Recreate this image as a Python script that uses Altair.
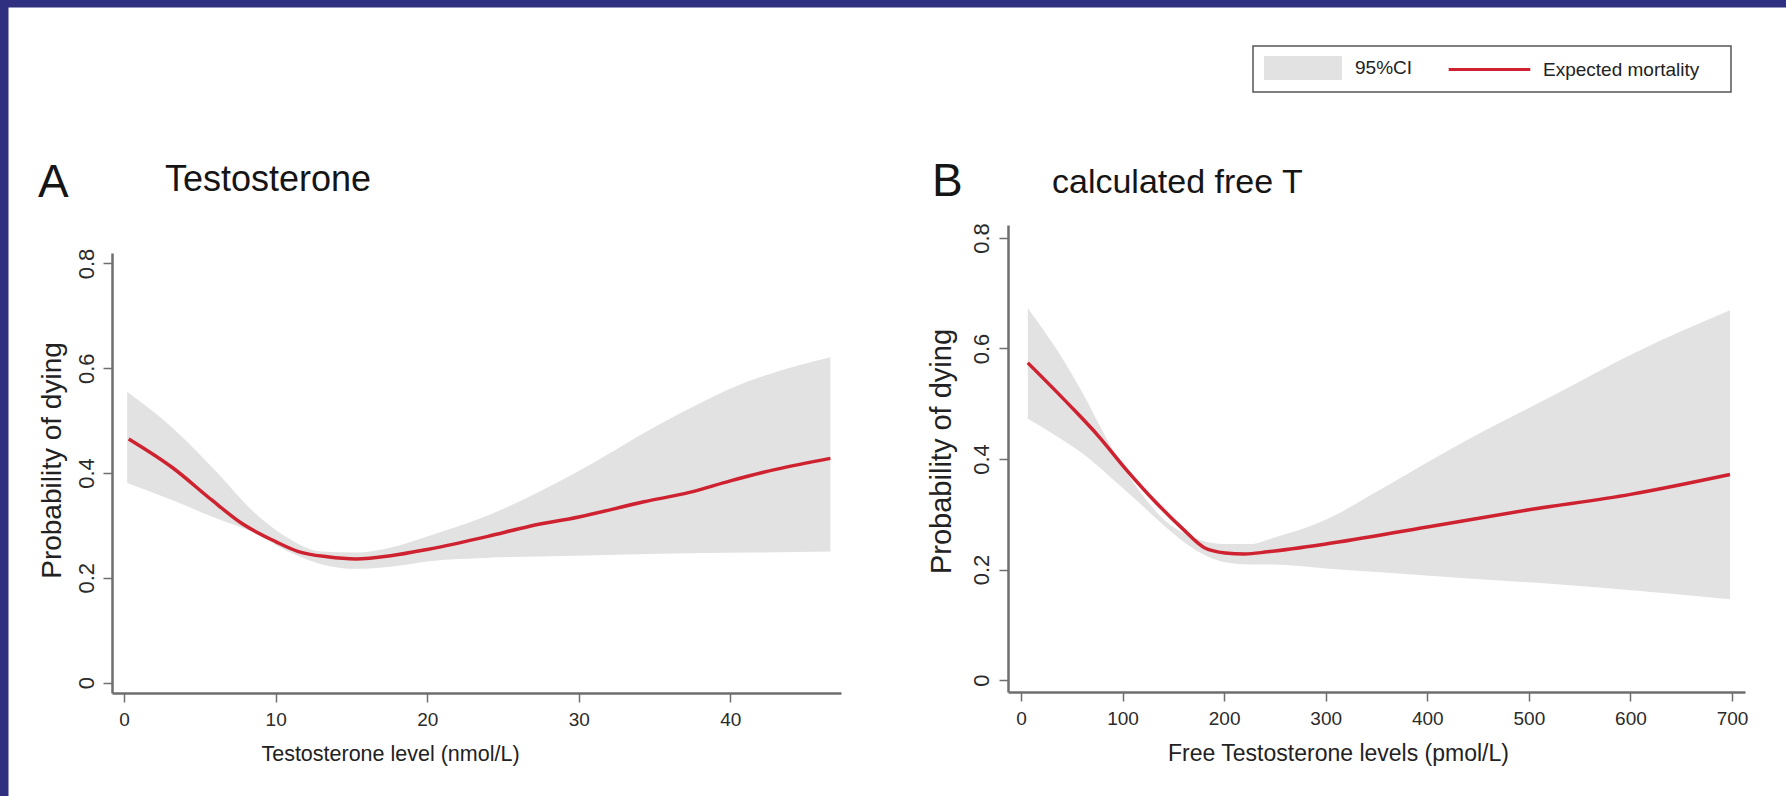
import altair as alt
import pandas as pd

FONT = "Liberation Sans"
RED = "#cf2230"
BAND = "#e2e2e2"
AXIS = "#6e6e6e"
NAVY = "#2f3180"

# ---------------- Panel A: total testosterone (nmol/L) ----------------
a_line_x = [0.3, 3.2, 5.8, 7.7, 10.0, 11.5, 13.4, 15.3, 17.6, 20.0, 24.0, 26.7, 30.0, 34.3, 37.3, 40.0, 43.0, 46.6]
a_line_y = [0.465, 0.410, 0.348, 0.305, 0.269, 0.250, 0.240, 0.236, 0.242, 0.254, 0.279, 0.298, 0.316, 0.345, 0.363, 0.385, 0.407, 0.428]
a_ci_x = [0.2, 3.2, 6.2, 8.5, 10.7, 13.0, 15.3, 17.6, 20.0, 24.0, 29.7, 35.4, 41.1, 46.6]
a_ci_hi = [0.555, 0.486, 0.399, 0.327, 0.278, 0.250, 0.248, 0.258, 0.279, 0.319, 0.399, 0.494, 0.574, 0.621]
a_ci_lo = [0.381, 0.348, 0.312, 0.287, 0.252, 0.226, 0.217, 0.221, 0.231, 0.238, 0.242, 0.246, 0.248, 0.250]
a_xticks = [0, 10, 20, 30, 40]

# ---------------- Panel B: calculated free testosterone (pmol/L) ----------------
b_line_x = [6.7, 48, 76, 104, 131, 159, 181, 201, 220, 243, 300, 400, 500, 600, 698]
b_line_y = [0.574, 0.497, 0.442, 0.380, 0.325, 0.274, 0.239, 0.230, 0.228, 0.232, 0.246, 0.277, 0.308, 0.336, 0.372]
b_ci_x = [6.7, 32, 59, 87, 115, 143, 171, 201, 226, 248, 300, 354, 437, 521, 604, 698]
b_ci_hi = [0.673, 0.607, 0.525, 0.428, 0.346, 0.287, 0.257, 0.246, 0.246, 0.257, 0.290, 0.345, 0.432, 0.512, 0.592, 0.669]
b_ci_lo = [0.473, 0.445, 0.412, 0.369, 0.323, 0.276, 0.236, 0.213, 0.209, 0.209, 0.202, 0.195, 0.184, 0.174, 0.162, 0.146]
b_xticks = [0, 100, 200, 300, 400, 500, 600, 700]

y_ticks = [0, 0.2, 0.4, 0.6, 0.8]
ci_label = "95%CI"
fit_label = "Expected mortality"


def panel(line_x, line_y, ci_x, ci_hi, ci_lo, xticks, xdom, xrng, ydom, yrng,
          xoff, yoff, xtitle, xtitle_size, xtitle_x, ytitle_x, ytitle_y, ytitle_size, ylab_pad):
    band_df = pd.DataFrame({"x": ci_x, "lo": ci_lo, "hi": ci_hi, "ci": [ci_label] * len(ci_x)})
    line_df = pd.DataFrame({"x": line_x, "y": line_y, "fit": [fit_label] * len(line_x)})
    xs = alt.Scale(domain=xdom, range=xrng, nice=False, zero=False)
    ys = alt.Scale(domain=ydom, range=yrng, nice=False, zero=False)
    xaxis = alt.Axis(
        orient="bottom", offset=xoff, values=xticks, format="d", grid=False,
        domainColor=AXIS, domainWidth=2.5, tickColor=AXIS, tickWidth=1.5, tickSize=9,
        labelFont=FONT, labelFontSize=19, labelColor="#2a2a2a", labelPadding=8,
        title=xtitle, titleFont=FONT, titleFontSize=xtitle_size, titleFontWeight="normal",
        titleColor="#222222", titleX=xtitle_x, titleY=50, titleAlign="center", titleBaseline="top",
    )
    yaxis = alt.Axis(
        orient="left", offset=yoff, values=y_ticks, grid=False,
        labelExpr="datum.value == 0 ? '0' : format(datum.value, '.1f')",
        domainColor=AXIS, domainWidth=2.5, tickColor=AXIS, tickWidth=1.5, tickSize=9,
        labelFont=FONT, labelFontSize=22, labelColor="#2a2a2a", labelAngle=270,
        labelAlign="center", labelBaseline="alphabetic", labelPadding=ylab_pad,
        title="Probability of dying", titleFont=FONT, titleFontSize=ytitle_size, titleFontWeight="normal",
        titleColor="#222222", titleAngle=270, titleX=ytitle_x, titleY=ytitle_y,
        titleAlign="center", titleBaseline="alphabetic",
    )
    band = alt.Chart(band_df).mark_area(opacity=1, interpolate="monotone").encode(
        x=alt.X("x:Q", scale=xs, axis=xaxis),
        y=alt.Y("lo:Q", scale=ys, axis=yaxis),
        y2="hi:Q",
        fill=alt.Fill("ci:N", scale=alt.Scale(domain=[ci_label], range=[BAND]),
                      legend=alt.Legend(orient="none", legendX=1283, legendY=49, title=None,
                                        symbolType="M-3.25,-1H3.25V1H-3.25Z", symbolSize=576,
                                        symbolStrokeWidth=0, labelFont=FONT, labelFontSize=19,
                                        labelLimit=300, labelColor="#222222", labelOffset=40,
                                        padding=0)),
    )
    line = alt.Chart(line_df).mark_line(strokeWidth=3.5, interpolate="monotone").encode(
        x=alt.X("x:Q", scale=xs),
        y=alt.Y("y:Q", scale=ys),
        stroke=alt.Stroke("fit:N", scale=alt.Scale(domain=[fit_label], range=[RED]),
                          legend=alt.Legend(orient="none", legendX=1468, legendY=49, title=None,
                                            symbolType="M-3.4,0H3.4", symbolSize=576,
                                            symbolStrokeWidth=3, labelFont=FONT, labelFontSize=19,
                                            labelLimit=300, labelColor="#222222", labelOffset=40,
                                            padding=0)),
    )
    return alt.layer(band, line)


panel_a = panel(a_line_x, a_line_y, a_ci_x, a_ci_hi, a_ci_lo, a_xticks,
                [-0.8, 47.3], [104, 833], [-0.02, 0.82], [686, 246],
                -103, -104, "Testosterone level (nmol/L)", 21.5, 382, -52, 453, 28, 10)
panel_b = panel(b_line_x, b_line_y, b_ci_x, b_ci_hi, b_ci_lo, b_xticks,
                [-12.8, 712.8], [1000, 1737], [-0.0217, 0.8235], [685, 218],
                -104, -1000, "Free Testosterone levels (pmol/L)", 23, 1330, -58, 444, 29, 11)

# legend frame
frame = alt.Chart(pd.DataFrame({"k": [0]})).mark_rect(
    filled=False, stroke="#555555", strokeWidth=1.5
).encode(x=alt.value(1245), x2=alt.value(1723), y=alt.value(39), y2=alt.value(85))


def label(txt, x, y, size):
    return alt.Chart(pd.DataFrame({"t": [txt]})).mark_text(
        font=FONT, fontSize=size, align="left", baseline="alphabetic", color="#151515"
    ).encode(text="t:N", x=alt.value(x), y=alt.value(y))


letters = ["A", "B"]
titles = ["Testosterone", "calculated free T"]

texts = [
    label(letters[0], 30, 190, 46),
    label(titles[0], 157, 184, 36),
    label(letters[1], 924, 189, 46),
    label(titles[1], 1044, 186, 34),
]

chart = alt.layer(panel_a, panel_b, frame, *texts).resolve_scale(
    x="independent", y="independent"
).properties(
    width=1778, height=789,
    padding={"left": 8, "top": 7, "right": 0, "bottom": 0},
    autosize=alt.AutoSizeParams(type="none"),
    background=NAVY,
).configure_view(fill="white", stroke="transparent")

chart.save("out.html", embed_options={"renderer": "svg", "actions": False})
